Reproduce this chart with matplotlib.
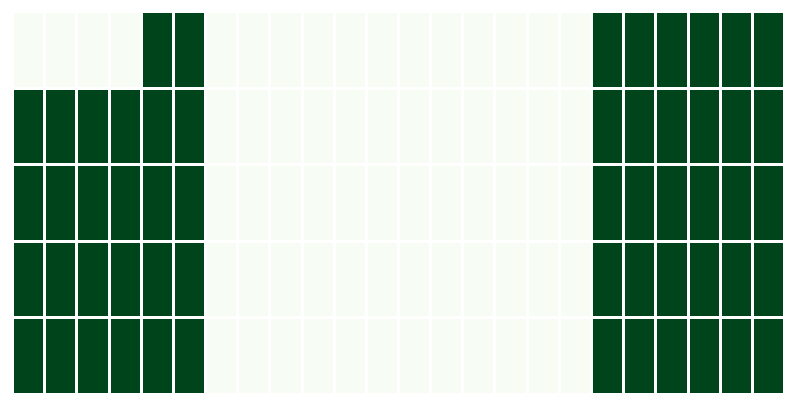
import matplotlib
matplotlib.use("Agg")
import matplotlib.pyplot as plt
import numpy as np

rows = ["r0", "r1", "r2", "r3", "r4"]
n_cols = 24
row0 = [0, 0, 0, 0, 1, 1] + [0] * 12 + [1] * 6
row1 = [1] * 6 + [0] * 12 + [1] * 6
row2 = [1] * 6 + [0] * 12 + [1] * 6
row3 = [1] * 6 + [0] * 12 + [1] * 6
row4 = [1] * 6 + [0] * 12 + [1] * 6
values = np.array([row0, row1, row2, row3, row4], dtype=float)

fig = plt.figure(figsize=(7.94, 4.05), dpi=100)
ax = fig.add_axes([12 / 794, 11 / 405, 772 / 794, 383 / 405])
ax.pcolormesh(values, cmap="Greens", vmin=0, vmax=1, edgecolors="white", linewidth=2)
ax.set_xlim(0, n_cols)
ax.set_ylim(len(rows), 0)
ax.axis("off")
fig.savefig("out.png", dpi=100)
